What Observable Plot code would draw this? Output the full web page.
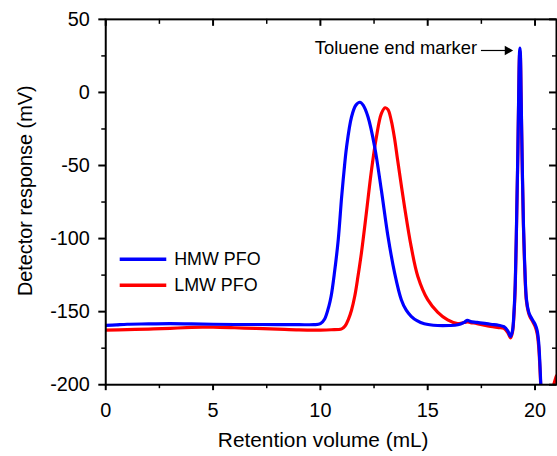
<!DOCTYPE html>
<html><head><meta charset="utf-8">
<script src="https://cdn.jsdelivr.net/npm/d3@7"></script>
<script src="https://cdn.jsdelivr.net/npm/@observablehq/plot@0.6"></script>
<style>html,body{margin:0;padding:0;overflow:hidden;background:#fff}</style>
</head><body><div id="chart"></div>
<script>
const hmwVolume = [0,0.5,1,2,3,4,5,6,7,8,9,9.7,10.0,10.2,10.4,10.5,10.65,10.83,10.99,11.1,11.22,11.45,11.65,11.84,12.0,12.22,12.53,12.84,13.15,13.46,13.77,14.0,14.23,14.5,14.84,15.46,16.0,16.4,16.7,16.85,17.0,17.3,17.93,18.3,18.55,18.73,18.86,18.95,19.02,19.08,19.15,19.2,19.24,19.28,19.3,19.32,19.35,19.4,19.46,19.52,19.6,19.7,19.78,19.9,20.0,20.1,20.17,20.27,20.35,20.6,20.9,21.0];
const hmwResponse = [-159.4,-159,-158.6,-158.4,-158.2,-158.4,-158.6,-158.8,-158.8,-158.9,-158.9,-158.9,-158.2,-155,-146,-139.5,-124,-101,-71.4,-54,-37.3,-16.8,-8.8,-6.7,-8.8,-16.8,-37.3,-66.8,-98.6,-123.6,-141.8,-149,-153.2,-156.2,-158.3,-159.5,-159.5,-159,-157.3,-156,-156.8,-157.3,-158.6,-159.3,-160.3,-163.2,-167,-163,-150,-130,-80,-40,0,28,30.3,26,0,-45,-90,-118,-141.5,-150,-153,-156,-158.6,-163,-171,-200,-230,-240,-215,-204];
const lmwVolume = [0,1,2,3,4,4.5,5,6,7,8,9,10,10.5,10.99,11.15,11.3,11.45,11.6,11.75,11.91,12.14,12.38,12.61,12.84,13.02,13.15,13.3,13.45,13.6,13.92,14.23,14.54,15.0,15.46,15.93,16.39,16.6,16.85,17.0,17.3,17.93,18.3,18.55,18.73,18.86,18.95,19.02,19.08,19.15,19.2,19.24,19.28,19.3,19.32,19.35,19.4,19.46,19.52,19.6,19.7,19.78,19.9,20.0,20.1,20.17,20.27,20.35,20.6,20.8,20.95,21.0];
const lmwResponse = [-162.6,-162.3,-161.9,-161.4,-160.8,-160.6,-160.6,-161,-161.5,-162,-162.5,-162.6,-162.4,-161.8,-159.8,-155.4,-149,-139.5,-126,-110,-82.7,-53.2,-30.5,-14.5,-10.5,-11.8,-19.1,-31,-46.4,-78.2,-105.5,-125.9,-141.8,-150.3,-155.7,-158.2,-157.8,-157,-157.5,-158.2,-160.2,-160.9,-161.5,-164.3,-168,-164,-152,-132,-82,-42,-2,26,28,24,-2,-47,-92,-120,-143,-151,-154,-157,-160,-165,-174,-202,-230,-240,-205,-196,-194];
const seriesNames = ["HMW PFO", "LMW PFO"];
const seriesColors = ["#0000ff", "#ff0000"];
const xMajorTicks = [0, 5, 10, 15, 20];
const xMinorTicks = [2.5, 7.5, 12.5, 17.5];
const yMajorTicks = [50, 0, -50, -100, -150, -200];
const yMinorTicks = [25, -25, -75, -125, -175];
const annotationText = ["Toluene end marker"];
const xTitle = "Retention volume (mL)";
const yTitle = "Detector response (mV)";

const hmw = hmwVolume.map((v, i) => ({v, r: hmwResponse[i]}));
const lmw = lmwVolume.map((v, i) => ({v, r: lmwResponse[i]}));
const plotH = 368, plotW = 454;
const fmt = d => String(d);

const chart = Plot.plot({
  width: 561, height: 456,
  marginLeft: 106, marginRight: 1, marginTop: 19, marginBottom: 69,
  x: {domain: [0, 21]},
  y: {domain: [-200, 50]},
  color: {type: "identity"},
  style: {fontFamily: "'Liberation Sans', Arial, Helvetica, sans-serif", fontSize: "20px", color: "#000", background: "#fff"},
  marks: [
    Plot.line(lmw, {x: "v", y: "r", stroke: seriesColors[1], strokeWidth: 3.2, clip: true, curve: "catmull-rom"}),
    Plot.line(hmw, {x: "v", y: "r", stroke: seriesColors[0], strokeWidth: 3.2, clip: true, curve: "catmull-rom"}),
    Plot.frame({strokeWidth: 2}),
    Plot.axisX({anchor: "bottom", ticks: xMajorTicks, tickSize: 6, tickPadding: 12, strokeWidth: 2, label: null, tickFormat: fmt, fontSize: 20}),
    Plot.axisX({anchor: "bottom", ticks: xMinorTicks, tickSize: 4, strokeWidth: 1.5, label: null, tickFormat: () => ""}),
    Plot.axisY({anchor: "left", ticks: yMajorTicks, tickSize: 7, tickPadding: 9, strokeWidth: 2, label: null, tickFormat: fmt, fontSize: 20}),
    Plot.axisY({anchor: "left", ticks: yMinorTicks, tickSize: 4, strokeWidth: 1.5, label: null, tickFormat: () => ""}),
    Plot.ruleX(xMajorTicks, {x: d => d, insetBottom: plotH - 7, strokeWidth: 2}),
    Plot.ruleX(xMinorTicks, {x: d => d, insetBottom: plotH - 5, strokeWidth: 1.5}),
    Plot.ruleY(yMajorTicks, {y: d => d, insetLeft: plotW - 7, strokeWidth: 2}),
    Plot.ruleY(yMinorTicks, {y: d => d, insetLeft: plotW - 4, strokeWidth: 1.5}),
    Plot.text([yTitle], {x: -3.75, y: -67.3, text: d => d, rotate: -90, fontSize: 20, lineAnchor: "middle", textAnchor: "middle"}),
    Plot.text([xTitle], {frameAnchor: "bottom", text: d => d, dx: -8, dy: 56, fontSize: 21, lineAnchor: "middle"}),
    Plot.link(seriesNames, {x1: 0.65, x2: 2.82, y1: (d, i) => -114.2 - 17.7 * i, y2: (d, i) => -114.2 - 17.7 * i, stroke: (d, i) => seriesColors[i], strokeWidth: 3.5}),
    Plot.text(seriesNames, {x: 3.19, y: (d, i) => -114.2 - 17.7 * i, text: d => d, textAnchor: "start", fontSize: 18}),
    Plot.text(annotationText, {x: 17.3, y: 30.3, text: d => d, textAnchor: "end", fontSize: 18.5}),
    Plot.link(annotationText, {x1: 17.48, x2: 18.7, y1: 28.7, y2: 28.7, stroke: "#000", strokeWidth: 1.2}),
    Plot.dot(annotationText, {x: 18.72, y: 28.7, symbol: "triangle", r: 3.6, fill: "#000", stroke: null, rotate: 90})
  ]
});
document.getElementById("chart").append(chart);
</script>
</body></html>
